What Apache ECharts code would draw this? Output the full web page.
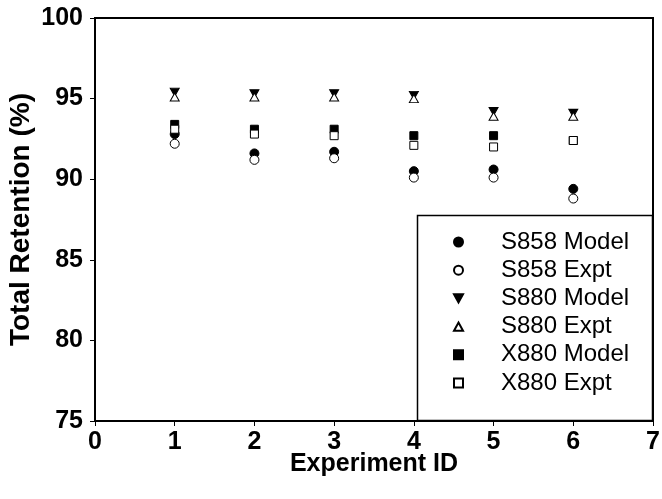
<!DOCTYPE html>
<html><head><meta charset="utf-8">
<script src="https://cdn.jsdelivr.net/npm/echarts@6/dist/echarts.min.js"></script>
<style>html,body{margin:0;padding:0;background:#fff}#c{width:662px;height:499px}</style>
</head><body><div id="c"></div>
<script>
const experimentIds = [1, 2, 3, 4, 5, 6];
const s858Model = [92.8, 91.6, 91.7, 90.5, 90.6, 89.4];
const s858Expt  = [92.2, 91.2, 91.3, 90.1, 90.1, 88.8];
const s880Model = [95.4, 95.3, 95.3, 95.2, 94.2, 94.1];
const s880Expt  = [95.1, 95.1, 95.1, 95.0, 93.9, 93.9];
const x880Model = [93.4, 93.1, 93.1, 92.7, 92.7, 92.4];
const x880Expt  = [93.1, 92.8, 92.7, 92.1, 92.0, 92.4];
const xTicks = [0,1,2,3,4,5,6,7];
const yTicks = [75,80,85,90,95,100];

const pts = arr => experimentIds.map((x,i)=>[x, arr[i]]);
const filled = {color:'#000', borderColor:'#000', borderWidth:1, opacity:1};
const open = {color:'#fff', borderColor:'#000', borderWidth:1, opacity:1};
const font = 'Arial, "Liberation Sans", sans-serif';

const series = [
  {name:'S858 Model', data:pts(s858Model), symbol:'circle', symbolSize:9, itemStyle:filled},
  {name:'S858 Expt', data:pts(s858Expt), symbol:'circle', symbolSize:9, itemStyle:open},
  {name:'S880 Model', data:pts(s880Model), symbol:'path://M0,0 L10,0 L5,9 Z', symbolSize:[9,8], itemStyle:filled},
  {name:'S880 Expt', data:pts(s880Expt), symbol:'path://M5,0 L10,9 L0,9 Z', symbolSize:[9,8], itemStyle:open},
  {name:'X880 Model', data:pts(x880Model), symbol:'rect', symbolSize:8, itemStyle:filled},
  {name:'X880 Expt', data:pts(x880Expt), symbol:'rect', symbolSize:8, itemStyle:open}
].map(s=>Object.assign({type:'scatter', animation:false, emphasis:{disabled:true}}, s));

const chart = echarts.init(document.getElementById('c'));
chart.setOption({
  backgroundColor:'#fff',
  animation:false,
  grid:{left:95, top:18, right:9, bottom:78, show:true, borderColor:'#000', borderWidth:2,
    backgroundColor:'transparent', containLabel:false, outerBoundsMode:'none'},
  xAxis:{type:'value', min:xTicks[0], max:xTicks[xTicks.length-1], interval:1,
    name:'Experiment ID', nameLocation:'middle', nameGap:31, nameMoveOverlap:false,
    nameTextStyle:{fontFamily:font, fontWeight:'bold', fontSize:25, color:'#000'},
    axisLine:{onZero:false, lineStyle:{color:'#000', width:2}},
    axisTick:{show:true, length:5, lineStyle:{color:'#000', width:1}},
    axisLabel:{fontFamily:font, fontWeight:'bold', fontSize:25, color:'#000', margin:9},
    splitLine:{show:false}},
  yAxis:{type:'value', min:yTicks[0], max:yTicks[yTicks.length-1], interval:5,
    name:'Total Retention (%)', nameLocation:'middle', nameGap:60, nameMoveOverlap:false,
    nameTextStyle:{fontFamily:font, fontWeight:'bold', fontSize:28, color:'#000'},
    axisLine:{onZero:false, lineStyle:{color:'#000', width:2}},
    axisTick:{show:true, length:5, lineStyle:{color:'#000', width:1}},
    axisLabel:{fontFamily:font, fontWeight:'bold', fontSize:25, color:'#000', margin:12},
    splitLine:{show:false}},
  graphic:[{type:'rect', shape:{x:417.5, y:215.5, width:235, height:205},
    style:{fill:'#fff', stroke:'#000', lineWidth:1.5}, z:5}],
  legend:{orient:'vertical', left:453, top:230, z:10,
    padding:0, itemGap:4.2, itemWidth:9, itemHeight:9,
    textStyle:{fontFamily:font, fontSize:24, color:'#000', lineHeight:24, padding:[0,0,0,33]},
    data:series.map(s=>s.name)},
  series: series
});
</script></body></html>
